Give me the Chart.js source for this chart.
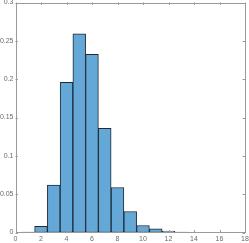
<!DOCTYPE html>
<html><head><meta charset="utf-8">
<script src="https://cdn.jsdelivr.net/npm/chart.js@4"></script>
<style>html,body{margin:0;padding:0;background:#fff;overflow:hidden}#w{width:249px;height:243px}</style>
</head><body><div id="w"><canvas id="c"></canvas></div>
<script>
const binCenters = [1,2,3,4,5,6,7,8,9,10,11,12,13,14,15,16];
const binValues = [0.0005,0.0082,0.0617,0.1958,0.259,0.2325,0.1358,0.0587,0.0274,0.0091,0.0047,0.0017,0.0006,0.0003,0.0002,0.0001];
const xTicks = [0,2,4,6,8,10,12,14,16,18];
const yTicks = [0,0.05,0.1,0.15,0.2,0.25,0.3];
const yLabels = ['0','0.05','0.1','0.15','0.2','0.25','0.3'];

const axisColor = '#9a9a9a';
const boxPlugin = {
  id:'box',
  afterDatasetsDraw(chart){
    const {ctx, chartArea:a, scales:{x,y}} = chart;
    ctx.save();
    ctx.strokeStyle = axisColor; ctx.lineWidth = 1;
    ctx.strokeRect(Math.round(a.left)+0.5, Math.round(a.top)+0.5, Math.round(a.right-a.left)-1, Math.round(a.bottom-a.top)-1);
    const L = 2.5;
    ctx.beginPath();
    xTicks.forEach(v=>{const px=Math.round(x.getPixelForValue(v))+0.5; ctx.moveTo(px,a.bottom); ctx.lineTo(px,a.bottom-L); ctx.moveTo(px,a.top); ctx.lineTo(px,a.top+L);});
    yTicks.forEach(v=>{const py=Math.round(y.getPixelForValue(v))+0.5; ctx.moveTo(a.left,py); ctx.lineTo(a.left+L,py); ctx.moveTo(a.right,py); ctx.lineTo(a.right-L,py);});
    ctx.stroke();
    ctx.restore();
  }
};

new Chart(document.getElementById('c'), {
  type:'bar',
  data:{datasets:[{
    data: binCenters.map((c,i)=>({x:c,y:binValues[i]})),
    backgroundColor:'rgb(99,168,214)',
    borderColor:'#1f2a36',
    borderWidth:1,
    barPercentage:1, categoryPercentage:1,
    borderSkipped:false
  }]},
  options:{
    responsive:true, maintainAspectRatio:false, animation:false,
    layout:{padding:{left:0,right:4,top:2.5,bottom:0}},
    plugins:{legend:{display:false},tooltip:{enabled:false}},
    scales:{
      x:{type:'linear',min:0,max:18,offset:false,
        afterBuildTicks(s){s.ticks=xTicks.map(v=>({value:v}));},
        afterFit(s){s.height=10.5;s.paddingLeft=0;s.paddingRight=0;},
        grid:{display:false,drawTicks:false},border:{display:false},
        ticks:{color:'#6a6a6a',font:{family:'Liberation Sans',size:7},padding:2,maxRotation:0,autoSkip:false}},
      y:{min:0,max:0.3,
        afterBuildTicks(s){s.ticks=yTicks.map(v=>({value:v}));},
        afterFit(s){s.width=15.5;s.paddingTop=0;s.paddingBottom=0;},
        grid:{display:false,drawTicks:false},border:{display:false},
        ticks:{color:'#6a6a6a',font:{family:'Liberation Sans',size:7},padding:2,
          callback:(v)=>{const i=yTicks.indexOf(v);return i>=0?yLabels[i]:'';}}}
    }
  },
  plugins:[boxPlugin]
});
</script></body></html>
